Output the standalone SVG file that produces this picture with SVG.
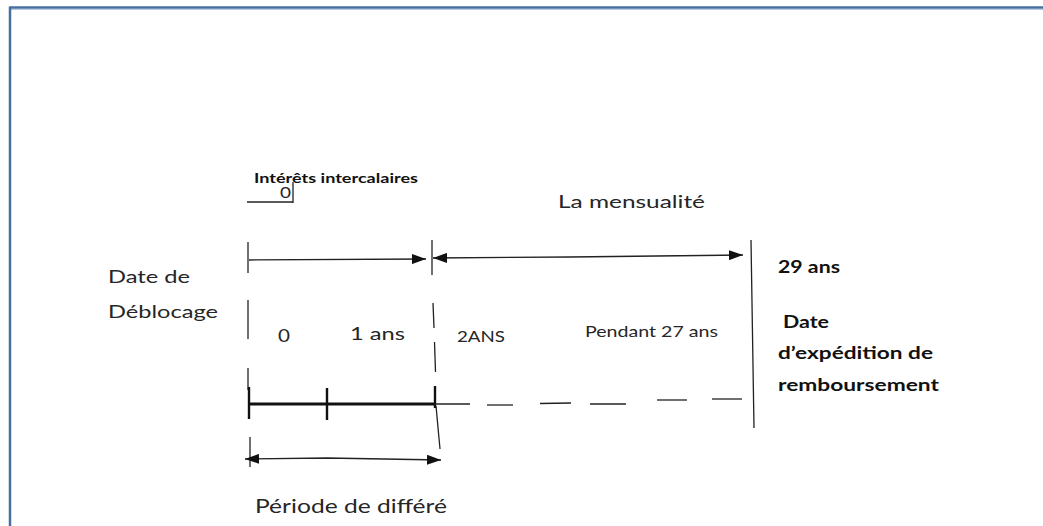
<svg xmlns="http://www.w3.org/2000/svg" width="1043" height="526" viewBox="0 0 1043 526">
<defs>
<style>
.t{font-family:Lato,"Liberation Sans",sans-serif;fill:#262626;}
.b{font-family:Lato,"Liberation Sans",sans-serif;font-weight:bold;fill:#111;}
.ln{stroke:#222;stroke-width:1.3;fill:none;}
.th{stroke:#111;stroke-width:3;fill:none;}
.tk{stroke:#111;stroke-width:2.4;fill:none;}
</style>
<marker id="ah" viewBox="0 0 14 10" refX="14" refY="5" markerWidth="14" markerHeight="10" markerUnits="userSpaceOnUse" orient="auto-start-reverse">
<path d="M0,0 L14,5 L0,10 Z" fill="#111"/>
</marker>
</defs>
<rect x="0" y="0" width="1043" height="526" fill="#fff"/>
<g id="border">
<line x1="10" y1="7.5" x2="1043" y2="7.5" stroke="#47709f" stroke-width="2.5"/>
<line x1="10" y1="9.5" x2="1043" y2="9.5" stroke="#b4c8e0" stroke-width="1"/>
<line x1="10" y1="6.5" x2="10" y2="526" stroke="#47709f" stroke-width="2.5"/>
</g>
<g id="connectors">
<line class="ln" x1="247" y1="202" x2="293" y2="202"/>
<line class="ln" x1="293" y1="182" x2="293" y2="203"/>
<line class="ln" x1="248" y1="242" x2="248" y2="273"/>
<line class="ln" x1="248" y1="300" x2="248" y2="339"/>
<line class="ln" x1="248" y1="368" x2="248" y2="390"/>
<line class="ln" x1="250" y1="437" x2="250" y2="467"/>
<line class="ln" x1="432" y1="240" x2="432" y2="275"/>
<line class="ln" x1="433" y1="303" x2="434" y2="328"/>
<line class="ln" x1="434.5" y1="342" x2="435.5" y2="372"/>
<line class="ln" x1="436" y1="406" x2="440" y2="449"/>
<line class="ln" x1="751" y1="240" x2="754" y2="428"/>
<line class="ln" x1="249" y1="260" x2="426" y2="259" marker-end="url(#ah)"/>
<polyline class="ln" points="433,258 570,257 743,255" marker-start="url(#ah)" marker-end="url(#ah)"/>
<polyline class="ln" points="245,459 327,458 441,460" marker-start="url(#ah)" marker-end="url(#ah)"/>
<line class="th" x1="248" y1="404" x2="436" y2="404"/>
<line class="tk" x1="249" y1="387" x2="249" y2="419"/>
<line class="tk" x1="327" y1="388" x2="327" y2="420"/>
<line class="tk" x1="435" y1="386" x2="435" y2="408"/>
<line class="ln" x1="435" y1="404" x2="470" y2="404"/>
<line class="ln" x1="487" y1="405" x2="513" y2="405"/>
<line class="ln" x1="540" y1="403.5" x2="571" y2="403"/>
<line class="ln" x1="590" y1="404" x2="626" y2="404"/>
<line class="ln" x1="657" y1="400" x2="687" y2="400"/>
<line class="ln" x1="712" y1="399" x2="742" y2="399"/>
</g>
<g id="node-interets"><text class="b" x="254" y="183" font-size="14" textLength="164" lengthAdjust="spacingAndGlyphs">Intérêts intercalaires</text>
<text class="t" x="280" y="198" font-size="16" textLength="11" lengthAdjust="spacingAndGlyphs">0</text></g>
<g id="node-mensualite"><text class="t" x="558" y="208" font-size="18" textLength="147" lengthAdjust="spacingAndGlyphs">La mensualité</text></g>
<g id="node-deblocage"><text class="t" x="108" y="283" font-size="18" textLength="82" lengthAdjust="spacingAndGlyphs">Date de</text>
<text class="t" x="108" y="318" font-size="18" textLength="110" lengthAdjust="spacingAndGlyphs">Déblocage</text></g>
<g id="node-0"><text class="t" x="278" y="342" font-size="17" textLength="12" lengthAdjust="spacingAndGlyphs">0</text></g>
<g id="node-1ans"><text class="t" x="350" y="340" font-size="17" textLength="55" lengthAdjust="spacingAndGlyphs">1 ans</text></g>
<g id="node-2ans"><text class="t" x="457" y="342" font-size="15" textLength="48" lengthAdjust="spacingAndGlyphs">2ANS</text></g>
<g id="node-pendant"><text class="t" x="585" y="337" font-size="15" textLength="133" lengthAdjust="spacingAndGlyphs">Pendant 27 ans</text></g>
<g id="node-29ans"><text class="b" x="778" y="273" font-size="16.5" textLength="62" lengthAdjust="spacingAndGlyphs">29 ans</text></g>
<g id="node-expedition"><text class="b" x="783" y="328" font-size="16.5" textLength="46" lengthAdjust="spacingAndGlyphs">Date</text>
<text class="b" x="778" y="359" font-size="16.5" textLength="155" lengthAdjust="spacingAndGlyphs">d’expédition de</text>
<text class="b" x="778" y="391" font-size="16.5" textLength="161" lengthAdjust="spacingAndGlyphs">remboursement</text></g>
<g id="node-differe"><text class="t" x="255" y="513" font-size="19" textLength="192" lengthAdjust="spacingAndGlyphs">Période de différé</text></g>
</svg>
